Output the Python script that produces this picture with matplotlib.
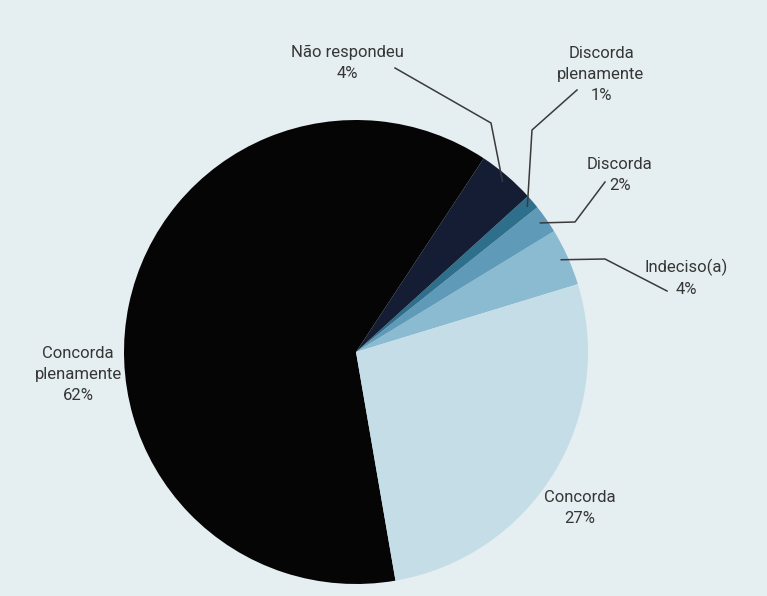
import numpy as np
import matplotlib
matplotlib.use("Agg")
import matplotlib.pyplot as plt

# survey answers, in the order the wedges are drawn (counter-clockwise)
categories = ["Indeciso(a)", "Discorda", "Discorda\nplenamente", "Não respondeu",
              "Concorda\nplenamente", "Concorda"]
percent = [4, 2, 1, 4, 62, 27]
colors = ["#8bbbd0", "#5f9ab8", "#2e6f8c", "#141d33", "#050505", "#c5dde6"]

plt.rcParams["font.family"] = ["Roboto", "DejaVu Sans"]

W, H = 767, 596
fig = plt.figure(figsize=(W / 100, H / 100), dpi=100)
fig.patch.set_facecolor("#e5eef1")
ax = fig.add_axes([0, 0, 1, 1])

cx, cy, R = 356, H - 352, 232
wedges, _ = ax.pie(percent, colors=colors, startangle=17, counterclock=True,
                   center=(cx, cy), radius=R, frame=True,
                   wedgeprops=dict(linewidth=0))
ax.set_xlim(0, W)
ax.set_ylim(0, H)
ax.axis("off")

txt = dict(ha="center", va="center", fontsize=12, color="#363636", linespacing=1.5)


def anchor(w, r=0.97):
    a = np.deg2rad((w.theta1 + w.theta2) / 2)
    return cx + r * R * np.cos(a), cy + r * R * np.sin(a)


# leader lines: label end, elbow, then the wedge
elbows = {
    0: [(667, H - 291), (605, H - 259)],
    1: [(605, H - 182), (575, H - 222)],
    2: [(577, H - 90), (532, H - 130)],
    3: [(395, H - 68), (491, H - 123)],
}
for i, pts in elbows.items():
    ax0, ay0 = anchor(wedges[i])
    xs = [p[0] for p in pts] + [ax0]
    ys = [p[1] for p in pts] + [ay0]
    ax.plot(xs, ys, color="#3a3a3a", lw=1.1)

label_pos = {
    0: (686, H - 278),
    1: (620, H - 175),
    2: (601, H - 75),
    3: (347, H - 63),
    4: (78, H - 375),
    5: (580, H - 508),
}
for i, (x, y) in label_pos.items():
    ax.text(x, y, f"{categories[i]}\n{percent[i]}%", **txt)

fig.savefig("out.png", dpi=100, facecolor=fig.get_facecolor())
